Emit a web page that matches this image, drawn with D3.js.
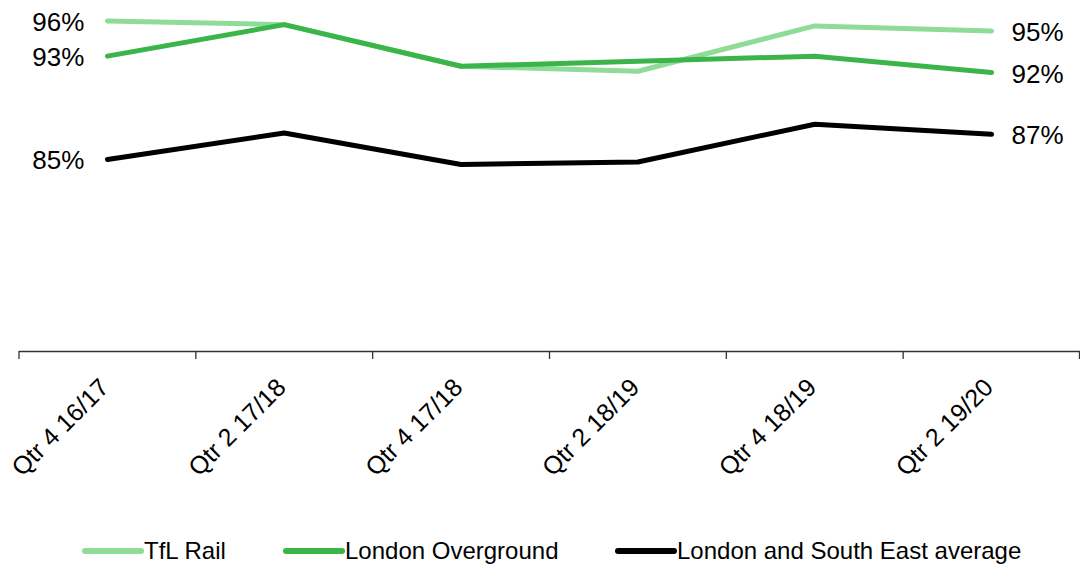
<!DOCTYPE html>
<html>
<head>
<meta charset="utf-8">
<script src="https://cdn.jsdelivr.net/npm/d3@7"></script>
<style>
  html, body { margin: 0; padding: 0; background: #ffffff; }
  svg { display: block; font-family: "Liberation Sans", Arial, sans-serif; }
</style>
</head>
<body>
<svg id="chart" width="1080" height="569"></svg>
<script>
// Quarterly satisfaction scores (%)
const categories = ["Qtr 4 16/17", "Qtr 2 17/18", "Qtr 4 17/18", "Qtr 2 18/19", "Qtr 4 18/19", "Qtr 2 19/20"];
const tflRail = [96.2, 95.9, 92.6, 92.2, 95.8, 95.4];
const londonOverground = [93.4, 95.9, 92.6, 93.0, 93.4, 92.1];
const londonSouthEast = [85.2, 87.3, 84.8, 85.0, 88.0, 87.2];
const seriesNames = ["TfL Rail", "London Overground", "London and South East average"];
const seriesColors = ["#8FDB98", "#3BB54A", "#000000"];
const yDomain = [70, 98];

const series = [
  { name: seriesNames[0], values: tflRail, color: seriesColors[0] },
  { name: seriesNames[1], values: londonOverground, color: seriesColors[1] },
  { name: seriesNames[2], values: londonSouthEast, color: seriesColors[2] }
];

const svg = d3.select("#chart");
const axisY = 351;

const x = d3.scaleBand().domain(categories).range([19, 1080]).padding(0);
const y = d3.scaleLinear().domain(yDomain).range([axisY, axisY - 12.6 * (yDomain[1] - yDomain[0])]);
const cx = c => x(c) + x.bandwidth() / 2;

// category axis: baseline and boundary ticks
const axisG = svg.append("g");
axisG.append("line")
  .attr("x1", x.range()[0]).attr("x2", x.range()[1])
  .attr("y1", axisY + 0.5).attr("y2", axisY + 0.5)
  .attr("stroke", "#333").attr("stroke-width", 1.3);

const edges = categories.map(c => x(c)).concat([x.range()[1]]);
axisG.selectAll("line.tick")
  .data(edges)
  .join("line")
  .attr("class", "tick")
  .attr("x1", d => Math.min(d, 1079.5)).attr("x2", d => Math.min(d, 1079.5))
  .attr("y1", axisY).attr("y2", axisY + 8)
  .attr("stroke", "#333").attr("stroke-width", 1.3);

// rotated category labels
axisG.selectAll("text.cat")
  .data(categories)
  .join("text")
  .attr("class", "cat")
  .attr("transform", d => `translate(${cx(d) + 3},${axisY + 38}) rotate(-45)`)
  .attr("text-anchor", "end")
  .attr("font-size", 25)
  .attr("fill", "#000")
  .text(d => d);

// series lines
const line = d3.line()
  .x((v, i) => cx(categories[i]))
  .y(v => y(v));

svg.append("g")
  .selectAll("path")
  .data(series)
  .join("path")
  .attr("d", s => line(s.values))
  .attr("fill", "none")
  .attr("stroke", s => s.color)
  .attr("stroke-width", 5)
  .attr("stroke-linecap", "round")
  .attr("stroke-linejoin", "round");

// end labels
const fmt = v => Math.round(v) + "%";
const labels = svg.append("g").attr("font-size", 26).attr("fill", "#000");
series.forEach(s => {
  const first = s.values[0];
  const last = s.values[s.values.length - 1];
  labels.append("text")
    .attr("x", cx(categories[0]) - 23)
    .attr("y", y(first) + 10)
    .attr("text-anchor", "end")
    .text(fmt(first));
  labels.append("text")
    .attr("x", cx(categories[categories.length - 1]) + 20)
    .attr("y", y(last) + 10)
    .attr("text-anchor", "start")
    .text(fmt(last));
});

// legend
const legendX = [85, 286, 618];
const legend = svg.append("g");
series.forEach((s, i) => {
  legend.append("line")
    .attr("x1", legendX[i]).attr("x2", legendX[i] + 56)
    .attr("y1", 551).attr("y2", 551)
    .attr("stroke", s.color)
    .attr("stroke-width", 6)
    .attr("stroke-linecap", "round");
  legend.append("text")
    .attr("x", legendX[i] + 59)
    .attr("y", 559)
    .attr("font-size", 24)
    .attr("fill", "#000")
    .text(s.name);
});
</script>
</body>
</html>
